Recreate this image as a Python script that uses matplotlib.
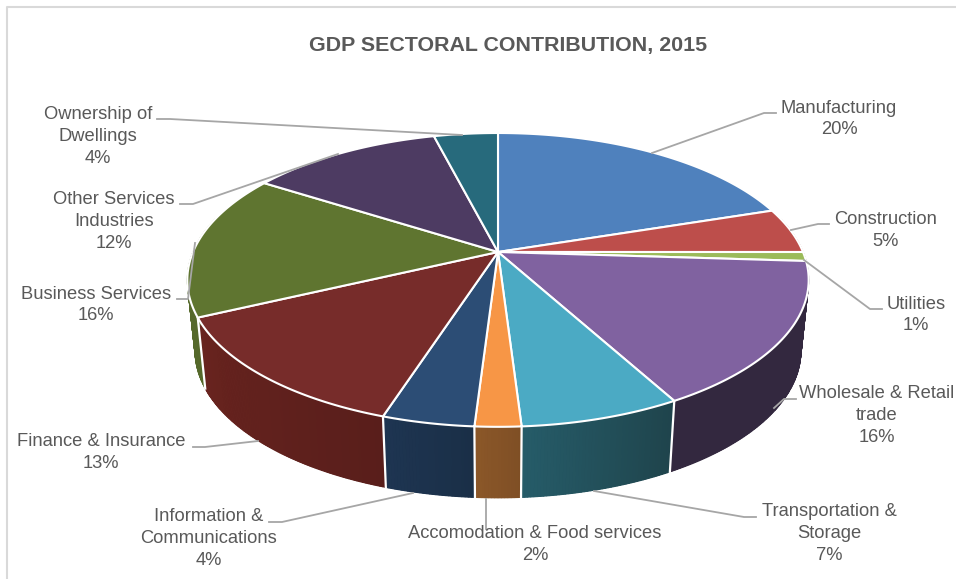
import numpy as np
import matplotlib
matplotlib.use('Agg')
import matplotlib.pyplot as plt
from matplotlib.colors import to_rgb

TITLE = 'GDP SECTORAL CONTRIBUTION, 2015'

sectors = ['Manufacturing', 'Construction', 'Utilities', 'Wholesale & Retail\ntrade',
           'Transportation &\nStorage', 'Accomodation & Food services',
           'Information &\nCommunications', 'Finance & Insurance', 'Business Services',
           'Other Services\nIndustries', 'Ownership of\nDwellings']
shares = [20, 5, 1, 16, 7, 2, 4, 13, 16, 12, 4]

top_colors = ['#4f81bd', '#bd4e4b', '#9bbb59', '#8062a0', '#4baac4', '#f79646',
              '#2c4d75', '#772c2a', '#5f7530', '#4d3b62', '#276a7c']
# wall shade at the clockwise start and end of each slice
wall_colors = [('#34507a', '#34507a'), ('#7a2f2d', '#7a2f2d'), ('#33283f', '#33283f'),
               ('#33283f', '#33283f'), ('#1f444c', '#265c69'), ('#7f4f25', '#8c5829'),
               ('#1a2f47', '#1e3552'), ('#591e1b', '#69241f'), ('#55692b', '#55692b'),
               ('#33263f', '#33263f'), ('#1a4652', '#1a4652')]

label_xy = [(839, 119), (886, 230.5), (916, 315), (877, 415.5), (829, 533.5), (535, 544.5),
            (209, 538.5), (101, 452.5), (96, 305), (114, 221.5), (98, 136.5)]
leaders = [[(776, 113), (764, 113), (652, 153)],
           [(829, 224), (818, 224), (791, 230)],
           [(882, 309), (870, 309), (804, 260)],
           [(796, 399), (784, 399), (774, 408)],
           [(756, 517), (744, 517), (594, 491)],
           [(486, 529), (486, 499)],
           [(269, 522), (282, 522), (413, 493)],
           [(193, 447), (205, 447), (258, 441)],
           [(177, 299), (188, 299), (195, 243)],
           [(180, 204), (193, 204), (338, 154)],
           [(157, 119), (170, 119), (462, 135)]]

# perspective disc: apex position, radii, foreshortening, wall height
CX, CY = 498, 252
RX, RY = 305, 141.6
PERSPECTIVE = 0.19
DEPTH = 71
BASE_SHRINK = 0.975
TEXT_COLOR = '#595959'


def rim(angles, lower=False):
    s = np.sin(angles)
    den = 1 + PERSPECTIVE * s
    x = RX * np.cos(angles) / den
    y = RY * s / den
    if lower:
        return CX + x * BASE_SHRINK, CY - y + DEPTH
    return CX + x, CY - y


def slice_edges(values):
    bounds = np.cumsum([0] + list(values)) / sum(values) * 2 * np.pi
    return np.pi / 2 - bounds


def draw_walls(ax, edges):
    for i in range(len(shares)):
        steps = max(int(np.degrees(edges[i] - edges[i + 1]) * 2), 2)
        angles = np.linspace(edges[i], edges[i + 1], steps + 1)
        angles = angles[np.sin(angles) < 0.25]
        if len(angles) < 2:
            continue
        c0, c1 = [np.array(to_rgb(c)) for c in wall_colors[i]]

        # solid band first so the gradient strips do not show seams
        xt, yt = rim(angles)
        xb, yb = rim(angles, lower=True)
        ax.fill(np.r_[xt, xb[::-1]], np.r_[yt, yb[::-1]], facecolor=(c0 + c1) / 2,
                edgecolor='none', zorder=2)
        for j in range(len(angles) - 1):
            col = c0 + (c1 - c0) * j / (len(angles) - 1)
            ax.fill([xt[j], xt[j + 1], xb[j + 1], xb[j]], [yt[j], yt[j + 1], yb[j + 1], yb[j]],
                    facecolor=col, edgecolor=col, lw=0.8, zorder=2)

    # white seams between the front slices
    for a in edges[:-1]:
        if np.sin(a) < -0.2:
            xt, yt = rim(np.array([a]))
            xb, yb = rim(np.array([a]), lower=True)
            ax.plot([xt[0], xb[0]], [yt[0], yb[0]], color='white', lw=1.6, zorder=3)


def draw_top(ax, edges):
    for i in range(len(shares)):
        angles = np.linspace(edges[i], edges[i + 1], 120)
        x, y = rim(angles)
        ax.fill(np.r_[CX, x], np.r_[CY, y], facecolor=top_colors[i], edgecolor='white',
                lw=1.5, joinstyle='round', zorder=4)


def main():
    plt.rcParams['font.family'] = ['Liberation Sans', 'DejaVu Sans']
    fig = plt.figure(figsize=(9.56, 5.79), dpi=100, facecolor='white')
    ax = fig.add_axes([0, 0, 1, 1])
    ax.set_xlim(0, 956)
    ax.set_ylim(579, 0)
    ax.axis('off')

    # chart frame, open at the right and bottom
    ax.plot([7, 7, 956], [579, 7, 7], color='#d9d9d9', lw=1.5, zorder=1)

    edges = slice_edges(shares)
    draw_walls(ax, edges)
    draw_top(ax, edges)

    for pts in leaders:
        xs, ys = zip(*pts)
        ax.plot(xs, ys, color='#a6a6a6', lw=1.3, zorder=5)

    for name, value, (x, y) in zip(sectors, shares, label_xy):
        ax.text(x, y, f'{name}\n{value}%', ha='center', va='center', fontsize=13.2,
                color=TEXT_COLOR, linespacing=1.37, zorder=6)

    ax.text(508, 45, TITLE, ha='center', va='center', fontsize=15.4, fontweight='bold',
            color=TEXT_COLOR, zorder=6)

    fig.savefig('out.png', dpi=100)


if __name__ == '__main__':
    main()
